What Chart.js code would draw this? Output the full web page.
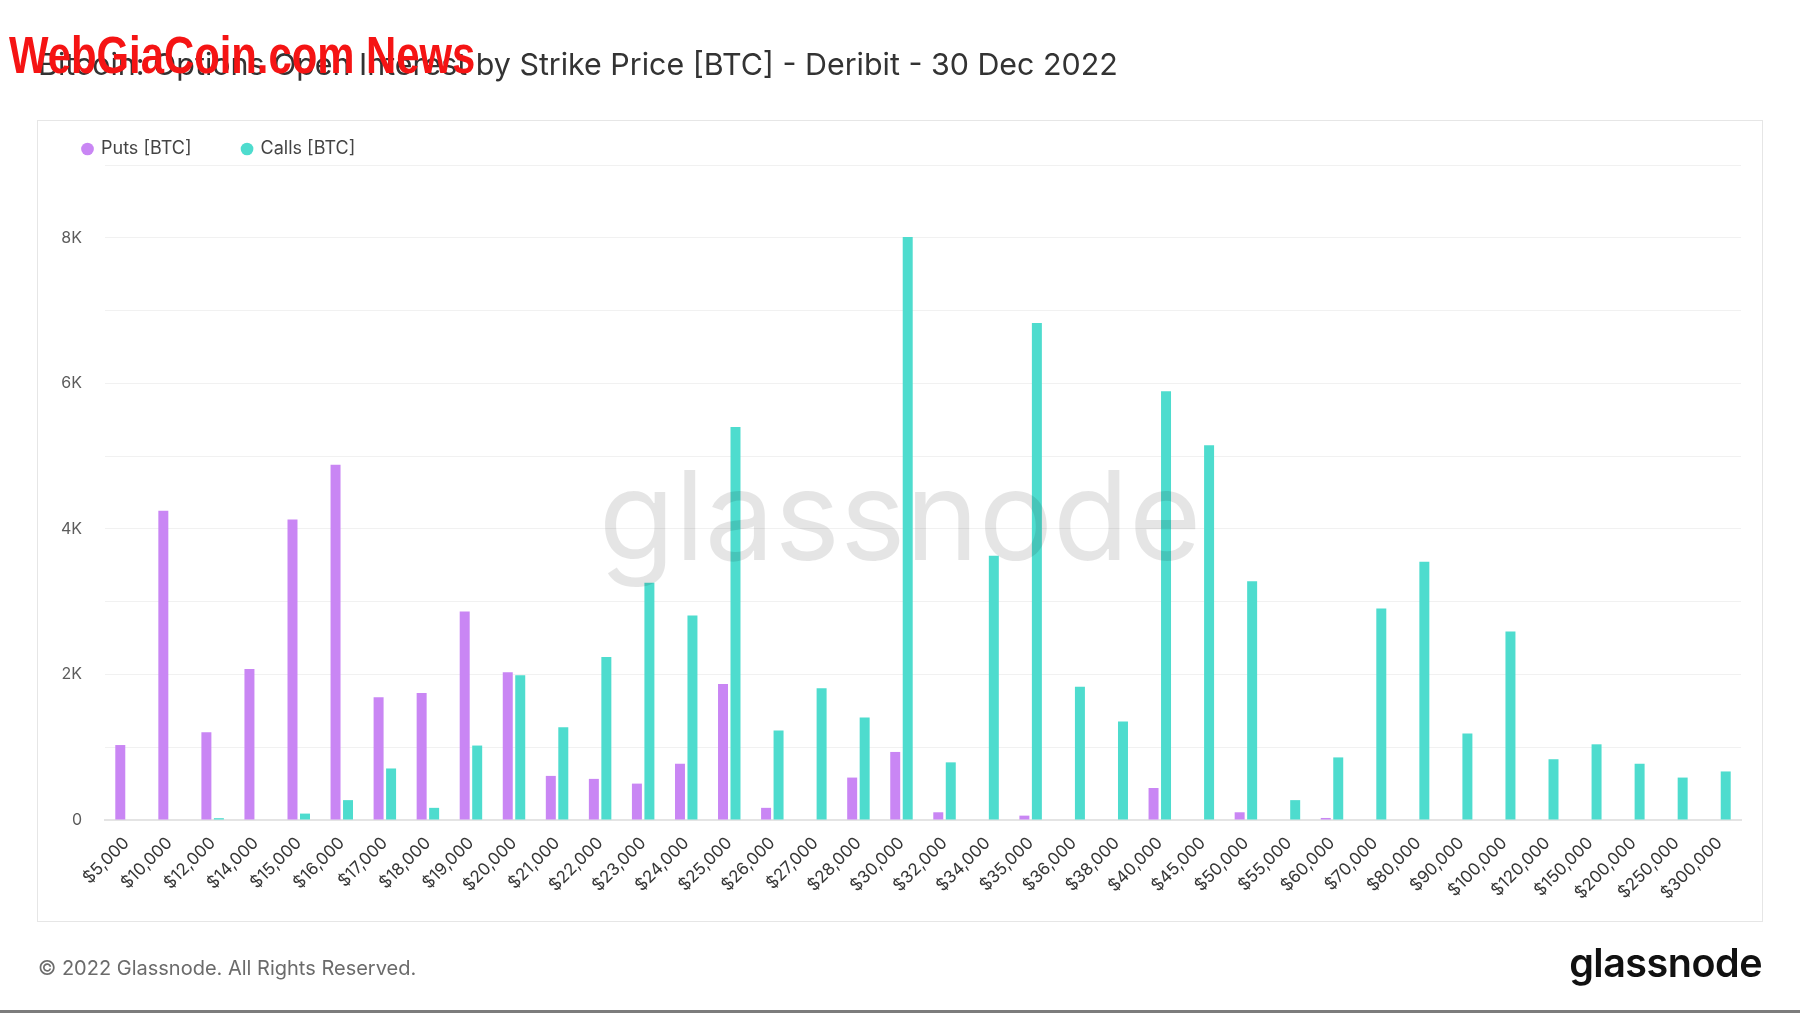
<!DOCTYPE html>
<html>
<head>
<meta charset="utf-8">
<script src="https://cdn.jsdelivr.net/npm/chart.js@4.4.0/dist/chart.umd.min.js"></script>
<style>
  html, body { margin: 0; padding: 0; background: #fff; }
  body { width: 1800px; height: 1013px; position: relative; overflow: hidden; font-family: Inter, "Noto Sans", sans-serif; }
  #title { position: absolute; left: 38px; top: 49px; font-size: 30.4px; line-height: 30px; color: #333; white-space: nowrap; }
  #stamp { position: absolute; left: 9px; top: 30px; font: bold 51px/51px "Liberation Sans", sans-serif; color: #f51414; white-space: nowrap; transform: scaleX(0.82); transform-origin: left top; }
  #box { position: absolute; left: 37px; top: 120px; width: 1724px; height: 800px; border: 1px solid #e6e6e6; }
  #wrap { position: absolute; left: 0; top: 0; width: 1800px; height: 1013px; }
  #mark { position: absolute; left: 0; width: 1800px; top: 453px; text-align: center; font-size: 124px; line-height: 124px; color: rgba(0,0,0,0.1); pointer-events: none; }
  #footer { position: absolute; left: 38px; top: 956px; font-size: 20px; line-height: 24px; color: #6b6b6b; }
  #logo { position: absolute; right: 38px; top: 941px; font-size: 39.5px; line-height: 44px; font-weight: 600; color: #111; letter-spacing: -0.5px; }
  #edge { position: absolute; left: 0; top: 1010px; width: 1800px; height: 3px; background: #7c7c7c; }
</style>
</head>
<body>
<div id="box"></div>
<div id="wrap"><canvas id="bar-chart"></canvas></div>
<div id="mark">glassnode</div>
<div id="title">Bitcoin: Options Open Interest by Strike Price [BTC] - Deribit - 30 Dec 2022</div>
<div id="stamp">WebGiaCoin.com News</div>
<div id="footer">© 2022 Glassnode. All Rights Reserved.</div>
<div id="logo">glassnode</div>
<div id="edge"></div>
<script>
const strikes = ['$5,000', '$10,000', '$12,000', '$14,000', '$15,000', '$16,000', '$17,000', '$18,000',
    '$19,000', '$20,000', '$21,000', '$22,000', '$23,000', '$24,000', '$25,000', '$26,000', '$27,000',
    '$28,000', '$30,000', '$32,000', '$34,000', '$35,000', '$36,000', '$38,000', '$40,000', '$45,000',
    '$50,000', '$55,000', '$60,000', '$70,000', '$80,000', '$90,000', '$100,000', '$120,000', '$150,000',
    '$200,000', '$250,000', '$300,000'];

const puts = [1030, 4250, 1205, 2075, 4130, 4880, 1685, 1745, 2865, 2030, 606, 565, 500, 773, 1870, 167, 0,
    583, 935, 106, 0, 60, 0, 0, 440, 0, 106, 0, 28, 0, 0, 0, 0, 0, 0, 0, 0, 0];

const calls = [0, 0, 25, 0, 88, 273, 708, 167, 1023, 1990, 1275, 2240, 3260, 2810, 5400, 1230, 1810,
    1410, 8010, 792, 3630, 6830, 1830, 1355, 5890, 5150, 3280, 273, 860, 2905, 3550, 1190, 2590, 835,
    1040, 773, 583, 667];

const yMax = 9000;
const yStep = 1000;

// pull the chart area up against the legend
const legendGap = {
    id: 'legendGap',
    beforeInit(chart) {
        const fit = chart.legend.fit;
        chart.legend.fit = function () {
            fit.call(this);
            this.height -= 3;
        };
    }
};

const bar = document.getElementById("bar-chart").getContext("2d");

const barChart = new Chart(bar, {
    type: 'bar',
    data: {
        labels: strikes,
        datasets: [
            {
                label: 'Puts [BTC]',
                data: puts,
                backgroundColor: '#c986f4',
                borderWidth: 0,
                categoryPercentage: 0.58,
                barPercentage: 0.8
            },
            {
                label: 'Calls [BTC]',
                data: calls,
                backgroundColor: '#4edcce',
                borderWidth: 0,
                categoryPercentage: 0.58,
                barPercentage: 0.8
            }
        ]
    },
    options: {
        responsive: true,
        maintainAspectRatio: false,
        animation: false,
        layout: { padding: { left: 32, right: 59, top: 89, bottom: 93 } },
        plugins: {
            legend: {
                display: true,
                position: 'top',
                align: 'start',
                labels: {
                    usePointStyle: true,
                    pointStyle: 'circle',
                    boxWidth: 9,
                    boxHeight: 9,
                    padding: 51,
                    color: '#444',
                    font: { family: 'Inter', size: 18 }
                }
            },
            tooltip: { enabled: false }
        },
        scales: {
            x: {
                grid: { display: false },
                border: { display: true, color: '#e4e4e4', width: 2 },
                ticks: {
                    autoSkip: false,
                    minRotation: 45,
                    maxRotation: 45,
                    padding: 5,
                    color: '#363636',
                    font: { family: 'Inter', size: 17 }
                },
                afterFit(scale) { scale.height = 100; }
            },
            y: {
                min: 0,
                max: yMax,
                grid: { color: '#f1f1f1', drawTicks: false },
                border: { display: false },
                ticks: {
                    stepSize: yStep,
                    padding: 23,
                    color: '#5c5c5c',
                    font: { family: 'Inter', size: 16 },
                    callback: function (v) {
                        if (v % 2000 !== 0) return '';
                        return v === 0 ? '0' : (v / 1000) + 'K';
                    }
                },
                afterFit(scale) { scale.width = 73; }
            }
        }
    },
    plugins: [legendGap]
});
</script>
</body>
</html>
